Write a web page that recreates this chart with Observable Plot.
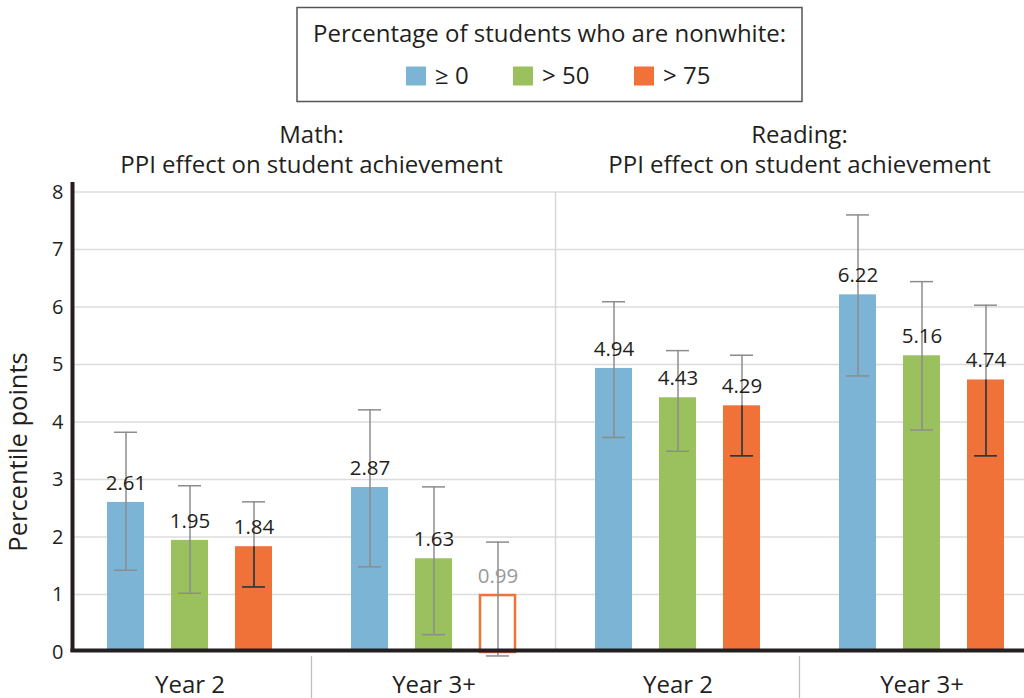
<!DOCTYPE html>
<html><head><meta charset="utf-8">
<script src="https://cdn.jsdelivr.net/npm/d3@7"></script>
<script src="https://cdn.jsdelivr.net/npm/@observablehq/plot@0.6"></script>
<style>
html,body{margin:0;padding:0;overflow:hidden;background:#fff;}
body{width:1024px;height:698px;}
#chart svg{max-width:none !important;}
</style></head><body>
<div id="chart"></div>
<script>
// ---- data ----
const series = ["≥ 0", "> 50", "> 75"];
const colors = ["#7bb4d5", "#9bc05e", "#f07238"];
const groups = ["Math|Year 2", "Math|Year 3+", "Reading|Year 2", "Reading|Year 3+"];
const subjectTitles = ["Math:", "Reading:"];
const subtitle = "PPI effect on student achievement";
const legendTitle = "Percentage of students who are nonwhite:";
const yLabel = "Percentile points";
const estimates = [[2.61, 1.95, 1.84], [2.87, 1.63, 0.99], [4.94, 4.43, 4.29], [6.22, 5.16, 4.74]];
const upper = [[3.83, 2.90, 2.62], [4.22, 2.88, 1.92], [6.10, 5.25, 5.17], [7.61, 6.45, 6.04]];
const lower = [[1.43, 1.03, 1.14], [1.49, 0.31, -0.06], [3.74, 3.50, 3.42], [4.81, 3.87, 3.42]];
const significant = [[true, true, true], [true, true, false], [true, true, true], [true, true, true]];
const yTicks = [0, 1, 2, 3, 4, 5, 6, 7, 8];

const rows = groups.flatMap((g, i) => series.map((s, j) => ({
  group: g, series: s, value: estimates[i][j], lo: lower[i][j], hi: upper[i][j], sig: significant[i][j]
})));
const darkRows = rows.filter(d => d.sig && d.series === series[2]);

const W = 1040, H = 698, mL = 72, mT = 192, mB = 46, mR = 2;
const font = '"Open Sans", sans-serif';
const ink = "#231f20";
const errColor = "#8c8c8c";

const plot = Plot.plot({
  width: W, height: H,
  marginLeft: mL, marginTop: mT, marginBottom: mB, marginRight: mR,
  style: {fontFamily: font, color: ink, background: "white", maxWidth: "none"},
  fx: {domain: groups, paddingInner: 0.194, paddingOuter: 0.0716, align: 0.5},
  x: {domain: series, paddingInner: 0.4219, paddingOuter: 0.25, axis: null},
  y: {domain: [0, 8]},
  color: {domain: series, range: colors},
  marks: [
    Plot.barY(rows.filter(d => d.sig), {fx: "group", x: "series", y: "value", fill: "series"}),
    Plot.barY(rows.filter(d => !d.sig), {fx: "group", x: "series", y: "value", fill: "white", stroke: "series", strokeWidth: 2.5, insetLeft: 1, insetRight: 1}),
    Plot.ruleX(rows, {fx: "group", x: "series", y1: "lo", y2: "hi", stroke: errColor, strokeWidth: 1.5}),
    Plot.tickY(rows, {fx: "group", x: "series", y: "lo", stroke: errColor, strokeWidth: 1.5, insetLeft: 7, insetRight: 7}),
    Plot.tickY(rows, {fx: "group", x: "series", y: "hi", stroke: errColor, strokeWidth: 1.5, insetLeft: 7, insetRight: 7}),
    Plot.ruleX(darkRows, {fx: "group", x: "series", y1: "lo", y2: "value", stroke: "#2b2b2b", strokeWidth: 1.5}),
    Plot.tickY(darkRows, {fx: "group", x: "series", y: "lo", stroke: "#2b2b2b", strokeWidth: 1.5, insetLeft: 7, insetRight: 7}),
    Plot.text(rows.filter(d => d.sig), {fx: "group", x: "series", y: "value", text: d => d3.format(".2f")(d.value), dy: -12.5, lineAnchor: "bottom", fontSize: 20.5, fill: ink}),
    Plot.text(rows.filter(d => !d.sig), {fx: "group", x: "series", y: "value", text: d => d3.format(".2f")(d.value), dy: -12.5, lineAnchor: "bottom", fontSize: 20.5, fill: "#9a9a9a"}),
    Plot.axisY({ticks: yTicks, tickSize: 0, tickPadding: 28, fontSize: 20, label: null}),
    Plot.axisFx({anchor: "bottom", tickSize: 0, tickPadding: 23, fontSize: 24, label: null, tickFormat: g => g.split("|")[1]})
  ]
});
document.getElementById("chart").appendChild(plot);

// ---- decorations using the plot's own scales ----
const svg = d3.select(plot);
const yS = plot.scale("y"), fxS = plot.scale("fx");
const y = v => yS.apply(v);
const gap = i => (fxS.apply(groups[i]) + fxS.bandwidth + fxS.apply(groups[i + 1])) / 2;

const grid = svg.insert("g", "g");
grid.selectAll("line").data(yTicks.filter(t => t > 0)).join("line")
  .attr("x1", mL).attr("x2", W).attr("y1", d => y(d)).attr("y2", d => y(d))
  .attr("stroke", "#dcdcdc").attr("stroke-width", 1.5);
grid.append("line").attr("x1", gap(1)).attr("x2", gap(1)).attr("y1", y(8)).attr("y2", y(0))
  .attr("stroke", "#d8d8d8").attr("stroke-width", 1.5);

const deco = svg.append("g").attr("text-anchor", "start");
[0, 2].forEach(i => deco.append("line").attr("x1", gap(i)).attr("x2", gap(i)).attr("y1", y(0) + 4).attr("y2", H)
  .attr("stroke", "#bdbdbd").attr("stroke-width", 1.2));
// axis lines as filled rectangles
deco.append("rect").attr("x", mL - 1.5).attr("width", 4).attr("y", y(8) - 10).attr("height", y(0) - y(8) + 10)
  .attr("fill", ink);
deco.append("rect").attr("x", mL - 1.5).attr("width", W - mL + 1.5).attr("y", y(0) - 3.5).attr("height", 4)
  .attr("fill", ink);

// subject titles centred over the Year 2 / Year 3+ dividers
[0, 2].forEach((i, k) => {
  const t = deco.append("text").attr("text-anchor", "middle").attr("font-family", font)
    .attr("font-size", 24).attr("fill", ink);
  t.append("tspan").attr("x", gap(i)).attr("y", y(8) - 49).text(subjectTitles[k]);
  t.append("tspan").attr("x", gap(i)).attr("y", y(8) - 19).text(subtitle);
});

// y-axis label
deco.append("text").attr("transform", `translate(26.5,${(y(0) + y(8)) / 2 + 30}) rotate(-90)`)
  .attr("text-anchor", "middle").attr("font-family", font).attr("font-size", 25.5).attr("fill", ink).text(yLabel);

// legend
const lg = deco.append("g").attr("font-family", font).attr("font-size", 24).attr("fill", ink);
lg.append("rect").attr("x", 297).attr("y", 7.5).attr("width", 505).attr("height", 94)
  .attr("fill", "white").attr("stroke", "#555").attr("stroke-width", 1.5);
lg.append("text").attr("x", 549.5).attr("y", 41.5).attr("text-anchor", "middle").text(legendTitle);
const itemX = [406, 513, 634];
series.forEach((s, j) => {
  lg.append("rect").attr("x", itemX[j]).attr("y", 66.5).attr("width", 20).attr("height", 19).attr("fill", colors[j]);
  lg.append("text").attr("x", itemX[j] + 29).attr("y", 84).attr("text-anchor", "start").text(s);
});
</script>
</body></html>
